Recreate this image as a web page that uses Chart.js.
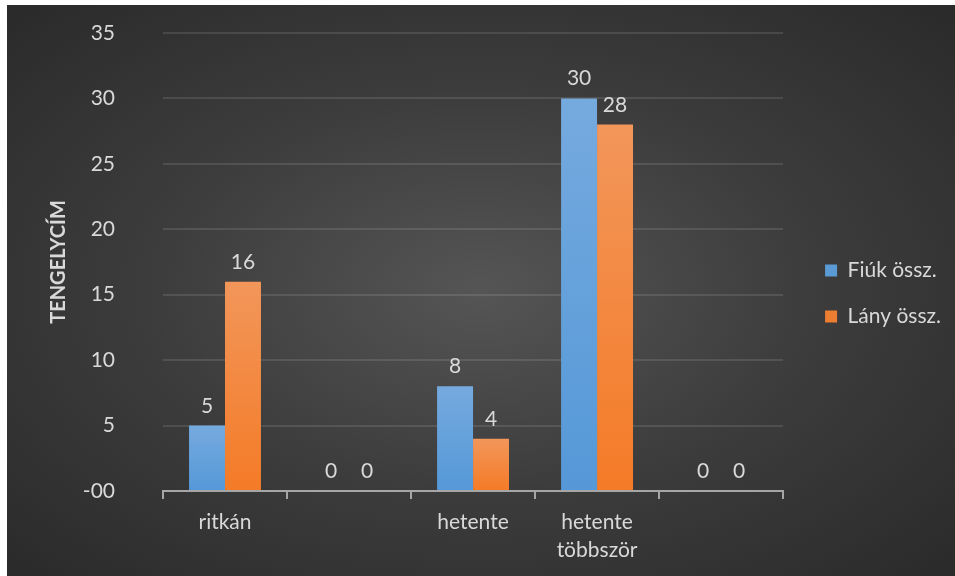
<!DOCTYPE html>
<html>
<head>
<meta charset="utf-8">
<script src="https://cdn.jsdelivr.net/npm/chart.js@4"></script>
<style>
  html, body { margin: 0; padding: 0; background: #fff; }
  #wrap {
    position: absolute; left: 7px; top: 5px; width: 948px; height: 571px;
    background: radial-gradient(ellipse farthest-corner at 50% 50%, #555555 0%, #3c3c3c 50%, #2a2a2a 100%);
  }
</style>
</head>
<body>
<div id="wrap"><canvas id="chart" width="948" height="571"></canvas></div>
<script>
const categories = ['ritkán', '', 'hetente', ['hetente', 'többször'], ''];
const fiuk = [5, 0, 8, 30, 0];
const lanyok = [16, 0, 4, 28, 0];
const seriesNames = ['Fiúk össz.', 'Lány össz.'];
const yTicks = [0, 5, 10, 15, 20, 25, 30, 35];

const FONT = 'Lato, "Open Sans", sans-serif';
const textColor = '#d9d9d9';

// vertical gradient per bar, light on top
function barFill(top, bottom) {
  return (c) => {
    const chart = c.chart;
    const area = chart.chartArea;
    if (!area || c.parsed == null) return bottom;
    const y = chart.scales.y.getPixelForValue(c.parsed.y);
    const base = chart.scales.y.getPixelForValue(0);
    if (base - y < 1) return bottom;
    const g = chart.ctx.createLinearGradient(0, y, 0, base);
    g.addColorStop(0, top);
    g.addColorStop(1, bottom);
    return g;
  };
}

const valueLabels = {
  id: 'valueLabels',
  afterLayout(chart) {
    // nudge legend a bit right of the plot and up
    chart.legend.left += 17;
    chart.legend.right += 17;
    chart.legend.top -= 11;
    chart.legend.bottom -= 11;
  },
  afterDatasetsDraw(chart) {
    const ctx = chart.ctx;
    ctx.save();
    ctx.font = '21px ' + FONT;
    ctx.fillStyle = textColor;
    ctx.textAlign = 'center';
    ctx.textBaseline = 'alphabetic';
    chart.data.datasets.forEach((ds, i) => {
      chart.getDatasetMeta(i).data.forEach((bar, j) => {
        ctx.fillText(String(ds.data[j]), bar.x, bar.y - 13);
      });
    });
    ctx.restore();
  }
};

new Chart(document.getElementById('chart'), {
  type: 'bar',
  data: {
    labels: categories,
    datasets: [
      {
        label: seriesNames[0],
        data: fiuk,
        backgroundColor: barFill('#75aade', '#5598d8'),
        legendColor: '#5b9bd5'
      },
      {
        label: seriesNames[1],
        data: lanyok,
        backgroundColor: barFill('#f2965a', '#f47b27'),
        legendColor: '#ed7d31'
      }
    ]
  },
  options: {
    responsive: false,
    animation: false,
    categoryPercentage: 0.58,
    barPercentage: 1,
    layout: { padding: { top: 28, left: 40, right: 21, bottom: 0 } },
    plugins: {
      tooltip: { enabled: false },
      legend: {
        position: 'right',
        labels: {
          color: textColor,
          font: { family: FONT, size: 21 },
          boxWidth: 12,
          boxHeight: 12,
          padding: 25,
          generateLabels(chart) {
            return chart.data.datasets.map((ds, i) => ({
              text: ds.label,
              fillStyle: ds.legendColor,
              strokeStyle: ds.legendColor,
              lineWidth: 0,
              fontColor: textColor,
              datasetIndex: i
            }));
          }
        }
      }
    },
    scales: {
      x: {
        grid: {
          offset: true,
          drawOnChartArea: false,
          drawTicks: true,
          tickLength: 8,
          color: '#a6a6a6',
          lineWidth: 2
        },
        border: { color: '#a6a6a6', width: 2 },
        ticks: {
          color: textColor,
          font: { family: FONT, size: 21, lineHeight: 1.333 },
          padding: 9,
          maxRotation: 0,
          autoSkip: false
        },
        afterFit(scale) { scale.height = 85; }
      },
      y: {
        min: 0,
        max: 35,
        afterBuildTicks(scale) { scale.ticks = yTicks.map(v => ({ value: v })); },
        grid: { color: 'rgba(255,255,255,0.11)', lineWidth: 2, drawTicks: false },
        border: { display: false },
        ticks: {
          color: textColor,
          font: { family: FONT, size: 21 },
          padding: 48,
          callback: v => v === 0 ? '-00' : v
        },
        title: {
          display: true,
          text: 'TENGELYCÍM',
          color: textColor,
          font: { family: FONT, size: 20, weight: 'bold' },
          padding: 0
        },
        afterFit(scale) {
          scale.width = 116;
          // tick padding would otherwise push the plot down
          scale.paddingTop = 0;
          scale.paddingBottom = 0;
        }
      }
    }
  },
  plugins: [valueLabels]
});
</script>
</body>
</html>
